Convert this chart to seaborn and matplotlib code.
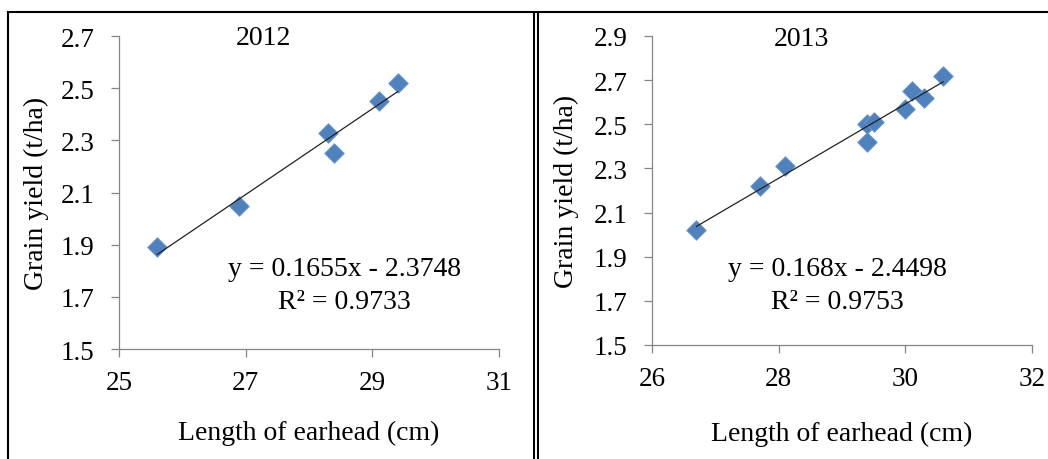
import matplotlib
matplotlib.use("Agg")
import matplotlib.pyplot as plt
from matplotlib.lines import Line2D
import seaborn as sns
import pandas as pd
import numpy as np

# ---- data ----
len_2012 = [25.6, 26.9, 28.3, 28.4, 29.1, 29.4]
yield_2012 = [1.89, 2.05, 2.33, 2.25, 2.45, 2.52]
len_2013 = [26.7, 27.7, 28.1, 29.4, 29.5, 29.4, 30.0, 30.1, 30.3, 30.6]
yield_2013 = [2.02, 2.22, 2.31, 2.50, 2.51, 2.42, 2.57, 2.65, 2.62, 2.72]
titles = ["2012", "2013"]
equations = ["y = 0.1655x - 2.3748", "y = 0.168x - 2.4498"]
r2_texts = ["R\u00b2 = 0.9733", "R\u00b2 = 0.9753"]
xticks_list = [[25, 27, 29, 31], [26, 28, 30, 32]]
yticks_list = [[1.5, 1.7, 1.9, 2.1, 2.3, 2.5, 2.7], [1.5, 1.7, 1.9, 2.1, 2.3, 2.5, 2.7, 2.9]]
x_label = "Length of earhead (cm)"
y_label = "Grain yield (t/ha)"

sns.set_theme(style="white")
plt.rcParams['font.family'] = ['Liberation Serif', 'DejaVu Serif']

W, H = 1048, 460
fig = plt.figure(figsize=(W / 100, H / 100), dpi=100)

def px_rect(x0, y0, x1, y1):
    return [x0 / W, (H - y1) / H, (x1 - x0) / W, (y1 - y0) / H]

axes_px = [(119, 37, 499, 350), (652, 37, 1032, 346)]
title_pos = [(0.379, 0.994), (0.394, 0.9935)]
eq_pos = [(0.593, 0.256, 0.153), (0.489, 0.249, 0.142)]
xlab_y = [-0.2875, -0.307]
ylab_x = [-0.20, -0.209]

datasets = [
    pd.DataFrame({"x": len_2012, "y": yield_2012}),
    pd.DataFrame({"x": len_2013, "y": yield_2013}),
]

gray = "#868686"
blue = "#4F81BD"

for i, df in enumerate(datasets):
    ax = fig.add_axes(px_rect(*axes_px[i]))
    sns.regplot(data=df, x="x", y="y", ax=ax, scatter=False, ci=None,
                truncate=True, line_kws=dict(color="#222222", lw=0.9, zorder=3))
    sns.scatterplot(data=df, x="x", y="y", ax=ax, marker="D", s=100,
                    color=blue, edgecolor="#6f9bd1", linewidth=0.6, zorder=2)
    xt = xticks_list[i]
    yt = yticks_list[i]
    ax.set_xlim(xt[0], xt[-1])
    ax.set_ylim(yt[0], yt[-1])
    ax.set_xticks(xt)
    ax.set_yticks(yt)
    ax.set_xticklabels([str(v) for v in xt])
    ax.set_yticklabels([f"{v:.1f}" for v in yt])
    for s in ["top", "right"]:
        ax.spines[s].set_visible(False)
    for s in ["left", "bottom"]:
        ax.spines[s].set_color(gray)
        ax.spines[s].set_linewidth(0.9)
    ax.tick_params(axis="both", direction="out", length=5.8, width=0.9,
                   color=gray, labelsize=19.5, labelcolor="black",
                   bottom=True, left=True)
    ax.tick_params(axis="y", pad=12)
    ax.tick_params(axis="x", pad=9)
    ax.patch.set_alpha(0)

    xl = ax.set_xlabel(x_label, fontsize=20, color="black")
    xl.set_va("baseline")
    ax.xaxis.set_label_coords(0.5, xlab_y[i])
    yl = ax.set_ylabel(y_label, fontsize=20, color="black")
    yl.set_va("baseline")
    ax.yaxis.set_label_coords(ylab_x[i], 0.5)

    ax.text(title_pos[i][0], title_pos[i][1], titles[i], transform=ax.transAxes,
            ha="center", va="center", fontsize=20, color="black")
    ax.text(eq_pos[i][0], eq_pos[i][1], equations[i], transform=ax.transAxes,
            ha="center", va="center", fontsize=20, color="black")
    ax.text(eq_pos[i][0], eq_pos[i][2], r2_texts[i], transform=ax.transAxes,
            ha="center", va="center", fontsize=20, color="black")

# panel borders
def fline(x0, y0, x1, y1, lw=1.5):
    fig.add_artist(Line2D([x0 / W, x1 / W], [(H - y0) / H, (H - y1) / H],
                          transform=fig.transFigure, color="black", lw=lw,
                          solid_capstyle="butt"))

fline(7.3, 13, W, 13)
fline(8.3, 12, 8.3, H)
fline(534.3, 12, 534.3, H)
fline(537.7, 12, 537.7, H)

fig.savefig("out.png", dpi=100, facecolor="white")
